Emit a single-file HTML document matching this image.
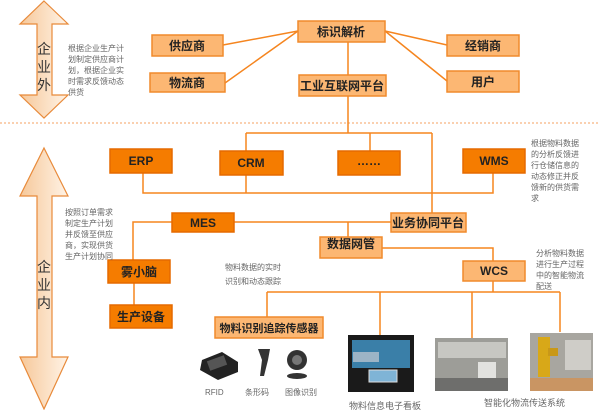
<!DOCTYPE html>
<html><head><meta charset="utf-8"><style>
body{margin:0;background:#fff;width:600px;height:410px;overflow:hidden}
svg{display:block}
text{font-family:"Liberation Sans","Noto Sans CJK SC",sans-serif}
.l{fill:#fcb773;stroke:#f08a2c;stroke-width:1.5}
.d{fill:#f57c00;stroke:#e56a00;stroke-width:1.5}
.bt{font-size:12px;font-weight:bold;fill:#222;text-anchor:middle}
.g{font-size:8px;fill:#666}
.ln{stroke:#f5851f;stroke-width:1.5;fill:none}
</style></head><body>
<svg width="600" height="410" viewBox="0 0 600 410">
<defs><linearGradient id="ag" x1="0" x2="1"><stop offset="0" stop-color="#f6c89a"/><stop offset="1" stop-color="#fff3e6"/></linearGradient></defs>
<path d="M44,1 L68,24 L52,24 L52,95 L68,95 L44,118 L20,95 L37,95 L37,24 L20,24 Z" fill="url(#ag)" stroke="#e88a3a" stroke-width="1.2"/>
<text x="44" y="54" font-size="14" fill="#333" text-anchor="middle">企</text>
<text x="44" y="72" font-size="14" fill="#333" text-anchor="middle">业</text>
<text x="44" y="90" font-size="14" fill="#333" text-anchor="middle">外</text>
<path d="M44,148 L68,196 L52,196 L52,357 L68,357 L44,409 L20,357 L37,357 L37,196 L20,196 Z" fill="url(#ag)" stroke="#e88a3a" stroke-width="1.2"/>
<text x="44" y="272" font-size="14" fill="#333" text-anchor="middle">企</text>
<text x="44" y="290" font-size="14" fill="#333" text-anchor="middle">业</text>
<text x="44" y="308" font-size="14" fill="#333" text-anchor="middle">内</text>
<line x1="0" y1="123" x2="600" y2="123" stroke="#f5a060" stroke-width="1" stroke-dasharray="2,2"/>
<g class="ln">
<path d="M223,45 L298,31 M225,83 L298,31 M385,31 L447,45 M385,31 L447,81 M348,42 L348,75 M348,96 L348,133 M246,133 L432,133 M246,133 L246,151 M370,133 L370,151 M432,133 L432,213"/>
<path d="M143,173 L143,193 L493,193 L493,173 M246,175 L246,193"/>
<path d="M234,222 L391,222 M172,222 L133,222 L133,260 M134,283 L134,305 M348,222 L348,237 M382,248 L493,248 L493,261 M493,281 L493,292 M267,292 L560,292 M267,292 L267,317 M380,292 L380,335 M472,292 L472,338 M560,292 L560,332"/>
</g>
<rect class="l" x="298" y="21" width="87" height="21"/><text class="bt" x="341" y="36">标识解析</text>
<rect class="l" x="152" y="35" width="71" height="21"/><text class="bt" x="187" y="50">供应商</text>
<rect class="l" x="150" y="73" width="75" height="19"/><text class="bt" x="187" y="87">物流商</text>
<rect class="l" x="299" y="75" width="87" height="21"/><text class="bt" x="342" y="90">工业互联网平台</text>
<rect class="l" x="447" y="35" width="72" height="21"/><text class="bt" x="483" y="50">经销商</text>
<rect class="l" x="447" y="71" width="72" height="21"/><text class="bt" x="483" y="86">用户</text>
<rect class="d" x="110" y="149" width="62" height="24"/><text class="bt" x="141" y="165">ERP</text>
<rect class="d" x="220" y="151" width="63" height="24"/><text class="bt" x="251" y="167">CRM</text>
<rect class="d" x="338" y="151" width="62" height="24"/><text class="bt" x="369" y="165">……</text>
<rect class="d" x="463" y="149" width="62" height="24"/><text class="bt" x="494" y="165">WMS</text>
<rect class="d" x="172" y="213" width="62" height="19"/><text class="bt" x="203" y="227">MES</text>
<rect class="l" x="391" y="213" width="75" height="19"/><text class="bt" x="428" y="227">业务协同平台</text>
<rect class="l" x="320" y="237" width="62" height="21"/><text class="bt" x="351" y="248">数据网管</text>
<rect class="d" x="108" y="260" width="62" height="23"/><text class="bt" x="139" y="276">雾小脑</text>
<rect class="d" x="110" y="305" width="62" height="23"/><text class="bt" x="141" y="321">生产设备</text>
<rect class="l" x="463" y="261" width="62" height="20"/><text class="bt" x="494" y="275">WCS</text>
<rect class="l" x="215" y="317" width="108" height="21"/><text class="bt" x="269" y="332" style="font-size:11px">物料识别追踪传感器</text>
<g class="g">
<text x="68" y="51">根据企业生产计</text><text x="68" y="62">划制定供应商计</text><text x="68" y="73">划，根据企业实</text><text x="68" y="84">时需求反馈动态</text><text x="68" y="95">供货</text>
<text x="531" y="146">根据物料数据</text><text x="531" y="157">的分析反馈进</text><text x="531" y="168">行仓储信息的</text><text x="531" y="179">动态修正并反</text><text x="531" y="190">馈新的供货需</text><text x="531" y="201">求</text>
<text x="65" y="215">按照订单需求</text><text x="65" y="226">制定生产计划</text><text x="65" y="237">并反馈至供应</text><text x="65" y="248">商，实现供货</text><text x="65" y="259">生产计划协同</text>
<text x="225" y="270">物料数据的实时</text><text x="225" y="284">识别和动态跟踪</text>
<text x="536" y="256">分析物料数据</text><text x="536" y="267">进行生产过程</text><text x="536" y="278">中的智能物流</text><text x="536" y="289">配送</text>
<text x="205" y="395">RFID</text><text x="245" y="395">条形码</text><text x="285" y="395">图像识别</text>
<text x="349" y="409" font-size="9">物料信息电子看板</text><text x="484" y="406" font-size="9">智能化物流传送系统</text>
</g>
<path d="M202,360 L222,352 L238,362 L238,372 L218,380 L200,370 Z" fill="#222"/>
<rect x="208" y="358" width="18" height="10" fill="#555" transform="rotate(-20 217 363)"/>
<path d="M258,349 L270,349 L268,360 L264,376 L260,376 L262,360 Z" fill="#333"/>
<circle cx="297" cy="360" r="10" fill="#333"/><circle cx="297" cy="360" r="5" fill="#777"/>
<ellipse cx="297" cy="376" rx="10" ry="3" fill="#333"/>
<rect x="348" y="335" width="66" height="57" fill="#1a1a1a"/>
<rect x="352" y="340" width="58" height="28" fill="#3a7fa8"/>
<rect x="353" y="352" width="26" height="10" fill="#9cb4c6"/>
<rect x="369" y="370" width="28" height="12" fill="#7fb4d6" stroke="#ddd"/>
<rect x="435" y="338" width="73" height="53" fill="#9d9d98"/>
<rect x="438" y="342" width="68" height="16" fill="#c7c7c2"/>
<rect x="478" y="362" width="18" height="16" fill="#e2e2df"/>
<rect x="435" y="378" width="73" height="13" fill="#6e6e6c"/>
<rect x="530" y="333" width="63" height="58" fill="#a8a6a0"/>
<rect x="538" y="337" width="12" height="40" fill="#d8a818"/>
<rect x="548" y="348" width="10" height="8" fill="#c99818"/>
<rect x="565" y="340" width="26" height="30" fill="#cfcdc8"/>
<rect x="530" y="378" width="63" height="13" fill="#e08a3a" opacity=".6"/>
</svg>
</body></html>
